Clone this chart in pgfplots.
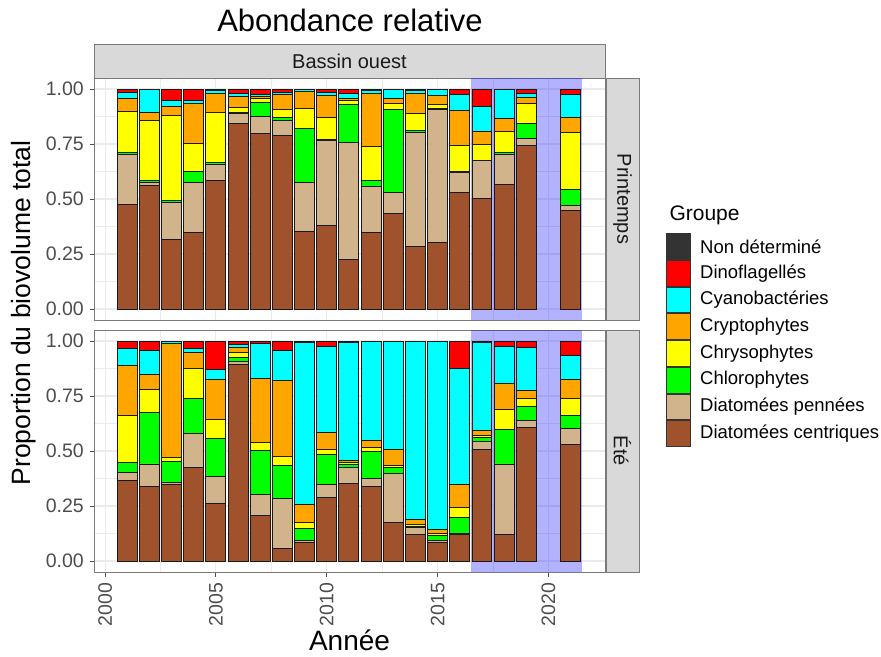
\documentclass[border=0pt]{standalone}
\usepackage{fontspec}
\setmainfont{Liberation Sans}
\usepackage{pgfplots}
\pgfplotsset{compat=1.18}
\usepackage{pgfplotstable}

\definecolor{cent}{HTML}{A0522D}
\definecolor{penn}{HTML}{D2B48C}
\definecolor{chloro}{HTML}{00FF00}
\definecolor{chryso}{HTML}{FFFF00}
\definecolor{crypto}{HTML}{FFA500}
\definecolor{cyano}{HTML}{00FFFF}
\definecolor{dino}{HTML}{FF0000}
\definecolor{nd}{HTML}{333333}
\definecolor{tickgray}{HTML}{4D4D4D}
\definecolor{gridgray}{HTML}{EBEBEB}
\definecolor{stripfill}{HTML}{D9D9D9}
\definecolor{framegray}{HTML}{7A7A7A}
\definecolor{striptext}{HTML}{1A1A1A}
\definecolor{shade}{HTML}{0000FF}

\newcommand{\ftick}{\fontsize{19.5bp}{21bp}\selectfont}
\newcommand{\fstrip}{\fontsize{20bp}{22bp}\selectfont}
\newcommand{\faxis}{\fontsize{26.5bp}{28bp}\selectfont}
\newcommand{\fxaxis}{\fontsize{28bp}{30bp}\selectfont}
\newcommand{\ftitle}{\fontsize{31bp}{33bp}\selectfont}
\newcommand{\flegt}{\fontsize{21bp}{23bp}\selectfont}
\newcommand{\fleg}{\fontsize{18.5bp}{20bp}\selectfont}

% Printemps
\pgfplotstableread{
year cent penn chloro chryso crypto cyano dino nd
2001 0.475 0.226 0.012 0.184 0.058 0.030 0.015 0
2002 0.563 0.012 0.009 0.273 0.036 0.107 0 0
2003 0.317 0.169 0.009 0.384 0.040 0.027 0.054 0
2004 0.347 0.229 0.047 0.130 0.182 0.014 0.051 0
2005 0.584 0.075 0.005 0.229 0.087 0.015 0.005 0
2006 0.845 0.045 0.005 0.022 0.048 0.015 0.020 0
2007 0.796 0.079 0.065 0.018 0.010 0.008 0.024 0
2008 0.787 0.070 0.015 0.033 0.072 0.008 0.015 0
2009 0.351 0.225 0.246 0.091 0.078 0.005 0.004 0
2010 0.380 0.385 0.005 0.102 0.098 0.015 0.015 0
2011 0.223 0.534 0.174 0.019 0.008 0.022 0.020 0
2012 0.347 0.208 0.029 0.155 0.241 0.015 0.005 0
2013 0.433 0.095 0.377 0.030 0.020 0.045 0 0
2014 0.282 0.522 0.008 0.075 0.093 0.015 0.005 0
2015 0.302 0.606 0.005 0.015 0.042 0.030 0 0
2016 0.531 0.090 0.003 0.118 0.160 0.075 0.023 0
2017 0.501 0.173 0.003 0.073 0.057 0.113 0.080 0
2018 0.566 0.135 0.011 0.095 0.057 0.136 0 0
2019 0.742 0.032 0.071 0.087 0.029 0.019 0.020 0
2021 0.449 0.023 0.071 0.261 0.068 0.101 0.027 0
}\printemps

% Ete
\pgfplotstableread{
year cent penn chloro chryso crypto cyano dino nd
2001 0.366 0.037 0.043 0.217 0.224 0.080 0.033 0
2002 0.338 0.103 0.234 0.103 0.071 0.110 0.041 0
2003 0.346 0.010 0.096 0.019 0.518 0.011 0 0
2004 0.426 0.154 0.160 0.136 0.074 0.015 0.035 0
2005 0.260 0.125 0.172 0.088 0.178 0.049 0.128 0
2006 0.894 0.015 0.015 0.026 0.020 0.015 0.015 0
2007 0.207 0.095 0.200 0.037 0.292 0.157 0.012 0
2008 0.056 0.226 0.152 0.042 0.346 0.133 0.045 0
2009 0.086 0.006 0.058 0.027 0.080 0.735 0.003 0.005
2010 0.290 0.057 0.139 0.023 0.076 0.392 0.023 0
2011 0.353 0.073 0.015 0.005 0.010 0.539 0.005 0
2012 0.340 0.033 0.125 0.019 0.033 0.450 0 0
2013 0.177 0.223 0.023 0.011 0.075 0.488 0.003 0
2014 0.121 0.030 0.008 0.008 0.022 0.808 0.003 0
2015 0.086 0.008 0.022 0.008 0.018 0.855 0.003 0
2016 0.121 0.006 0.072 0.046 0.102 0.528 0.125 0
2017 0.506 0.038 0.018 0.008 0.022 0.403 0.003 0.002
2018 0.119 0.322 0.159 0.090 0.118 0.166 0.026 0
2019 0.607 0.030 0.064 0.039 0.036 0.194 0.030 0
2021 0.529 0.074 0.060 0.076 0.087 0.106 0.068 0
}\ete

\pgfplotsset{
  panel/.style={
    scale only axis, width=511bp, height=242bp,
    xmin=1999.5, xmax=2022.55, ymin=-0.05, ymax=1.05,
  },
  bgpanel/.style={
    panel,
    axis line style={draw=framegray, line width=0.9bp},
    grid=both,
    major grid style={draw=gridgray, line width=1.1bp},
    minor grid style={draw=gridgray, line width=0.55bp},
    minor tick num=1,
    minor tick length=0pt,
    tick align=outside,
    major tick length=4.5bp,
    tick style={draw=tickgray, line width=0.9bp},
    ytick pos=left,
    xtick={2000,2005,...,2020},
    ytick={0,0.25,0.5,0.75,1},
    yticklabels={0.00,0.25,0.50,0.75,1.00},
    yticklabel style={font=\ftick, text=tickgray, inner sep=0pt, xshift=-5.5bp},
  },
  barpanel/.style={
    panel, hide axis,
    ybar stacked, bar width=0.9, bar shift=0pt,
    every axis plot/.append style={draw=black!90, line width=0.95bp},
  },
}

\newcommand{\bars}[1]{%
  \addplot[fill=cent] table[x=year,y=cent] {#1};
  \addplot[fill=penn] table[x=year,y=penn] {#1};
  \addplot[fill=chloro] table[x=year,y=chloro] {#1};
  \addplot[fill=chryso] table[x=year,y=chryso] {#1};
  \addplot[fill=crypto] table[x=year,y=crypto] {#1};
  \addplot[fill=cyano] table[x=year,y=cyano] {#1};
  \addplot[fill=dino] table[x=year,y=dino] {#1};
  \addplot[fill=nd] table[x=year,y=nd] {#1};
}

\begin{document}
\begin{tikzpicture}
\useasboundingbox (0,0) rectangle (881bp,-657bp);

% title
\node[font=\ftitle] at (350bp,-20bp) {Abondance relative};

% top strip
\filldraw[fill=stripfill, draw=framegray, line width=0.9bp] (94bp,-44bp) rectangle (605bp,-78bp);
\node[font=\fstrip, text=striptext] at (349.5bp,-61bp) {Bassin ouest};

% right strips
\filldraw[fill=stripfill, draw=framegray, line width=0.9bp] (606.5bp,-78bp) rectangle (639bp,-320bp);
\node[font=\fstrip, text=striptext, rotate=-90] at (622.5bp,-199bp) {Printemps};
\filldraw[fill=stripfill, draw=framegray, line width=0.9bp] (606.5bp,-330bp) rectangle (639bp,-572bp);
\node[font=\fstrip, text=striptext, rotate=-90] at (622.5bp,-451bp) {Été};

% top panel
\begin{axis}[bgpanel, at={(94bp,-78bp)}, anchor=north west,
  xticklabels={}, x tick style={draw=none}]
\addplot[fill=shade, fill opacity=0.3, draw=none] coordinates {(2016.5,-0.05) (2016.5,1.05) (2021.5,1.05) (2021.5,-0.05)} -- cycle;
\end{axis}
\begin{axis}[barpanel, at={(94bp,-78bp)}, anchor=north west]
\bars{\printemps}
\end{axis}

% bottom panel
\begin{axis}[bgpanel, at={(94bp,-330bp)}, anchor=north west,
  xtick pos=bottom,
  xticklabels={2000,2005,2010,2015,2020},
  xticklabel shift=6bp,
  xticklabel style={font=\ftick, text=tickgray, rotate=90, anchor=east, inner sep=0pt}]
\addplot[fill=shade, fill opacity=0.3, draw=none] coordinates {(2016.5,-0.05) (2016.5,1.05) (2021.5,1.05) (2021.5,-0.05)} -- cycle;
\end{axis}
\begin{axis}[barpanel, at={(94bp,-330bp)}, anchor=north west]
\bars{\ete}
\end{axis}

% axis titles
\node[font=\faxis, rotate=90] at (24bp,-313bp) {Proportion du biovolume total};
\node[font=\fxaxis] at (349.5bp,-640bp) {Année};

% legend
\node[font=\flegt, anchor=west] at (666bp,-215bp) {Groupe};
\foreach \c/\t [count=\i from 0] in {nd/Non déterminé, dino/Dinoflagellés, cyano/Cyanobactéries, crypto/Cryptophytes, chryso/Chrysophytes, chloro/Chlorophytes, penn/Diatomées pennées, cent/Diatomées centriques} {
  \filldraw[fill=\c, draw=black!80, line width=0.8bp] (666bp,{-233bp-26.75bp*\i-0.6bp}) rectangle (690.5bp,{-233bp-26.75bp*(\i+1)+0.6bp});
  \node[font=\fleg, anchor=west, inner sep=0pt] at (700bp,{-233bp-26.75bp*\i-13.4bp}) {\t};
}
\end{tikzpicture}
\end{document}
